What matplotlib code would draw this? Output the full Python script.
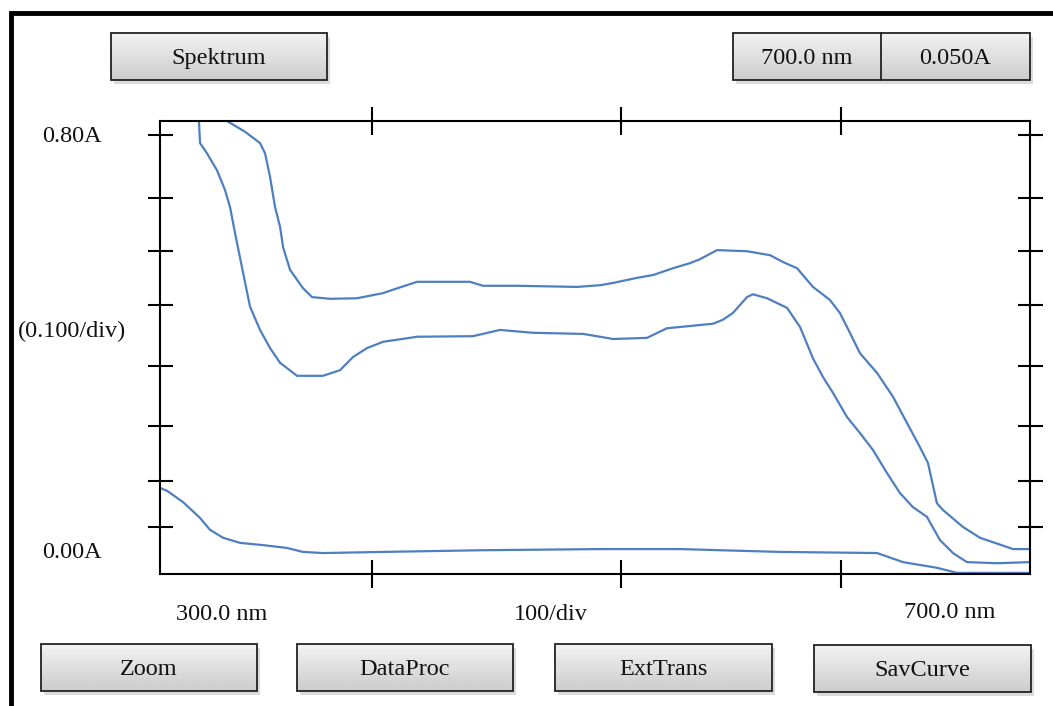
import numpy as np
import matplotlib.pyplot as plt
from matplotlib.patches import Rectangle

plt.rcParams['font.family'] = ['Liberation Serif', 'DejaVu Serif']

# Espectros (longitud de onda en nm, absorbancia en A)
wl_upper = [330.8, 339.1, 346.0, 348.3, 350.6, 352.9, 355.2, 356.6, 359.8, 365.7,
            369.9, 378.2, 390.6, 402.5, 407.1, 418.2, 442.5, 448.5, 464.1, 491.7,
            502.3, 508.3, 519.3, 526.7, 535.9, 543.7, 548.3, 556.1, 569.9, 580.5,
            586.4, 592.9, 600.2, 608.0, 612.6, 617.2, 621.8, 629.7, 637.0, 643.4,
            649.4, 653.1, 657.2, 660.0, 669.2, 677.0, 692.2, 700.0]
abs_upper = [0.800, 0.781, 0.761, 0.743, 0.701, 0.648, 0.613, 0.577, 0.537, 0.505,
             0.489, 0.486, 0.487, 0.496, 0.502, 0.516, 0.516, 0.509, 0.509, 0.507,
             0.510, 0.514, 0.523, 0.528, 0.540, 0.549, 0.556, 0.572, 0.570, 0.563,
             0.551, 0.540, 0.507, 0.484, 0.461, 0.426, 0.390, 0.355, 0.313, 0.267,
             0.224, 0.196, 0.125, 0.113, 0.083, 0.064, 0.044, 0.044]

wl_middle = [317.9, 318.4, 321.6, 326.2, 329.9, 332.2, 334.5, 338.2, 341.4, 346.0,
             350.6, 355.2, 363.0, 374.9, 382.8, 388.7, 395.2, 402.5, 418.2, 443.9,
             456.3, 471.5, 494.5, 502.3, 508.3, 523.9, 533.1, 554.3, 558.8, 563.4,
             569.9, 572.6, 579.1, 588.3, 594.3, 600.2, 604.8, 609.4, 615.9, 621.8,
             627.8, 634.3, 640.2, 646.2, 652.6, 658.6, 664.6, 671.0, 684.8, 700.0]
abs_middle = [0.800, 0.761, 0.743, 0.713, 0.678, 0.648, 0.602, 0.532, 0.472, 0.431,
              0.399, 0.373, 0.350, 0.350, 0.360, 0.383, 0.399, 0.410, 0.419, 0.420,
              0.431, 0.426, 0.424, 0.419, 0.415, 0.417, 0.434, 0.442, 0.449, 0.461,
              0.489, 0.494, 0.487, 0.470, 0.436, 0.381, 0.348, 0.320, 0.277, 0.249,
              0.219, 0.178, 0.143, 0.118, 0.101, 0.060, 0.037, 0.021, 0.019, 0.021]

wl_lower = [300.0, 303.2, 310.6, 318.4, 323.0, 329.0, 336.8, 347.4, 358.4, 365.7,
            374.9, 402.5, 448.5, 502.3, 539.1, 585.1, 629.7, 641.6, 646.2, 657.2,
            666.4, 700.0]
abs_lower = [0.152, 0.147, 0.127, 0.099, 0.078, 0.064, 0.055, 0.051, 0.046, 0.039,
             0.037, 0.039, 0.042, 0.044, 0.044, 0.039, 0.037, 0.021, 0.018, 0.011,
             0.002, 0.002]

# Marcas de los ejes
y_ticks = [0.083, 0.164, 0.261, 0.367, 0.475, 0.570, 0.664, 0.775]
x_ticks = [397.5, 512.0, 613.0]

# Botones de la pantalla: (texto, x0, y0, x1, y1) en píxeles
buttons = [('Spektrum', 111, 33, 327, 80),
           ('Zoom', 41, 644, 257, 691),
           ('DataProc', 297, 644, 513, 691),
           ('ExtTrans', 555, 644, 772, 691),
           ('SavCurve', 814, 645, 1031, 692)]
split_labels = ['700.0 nm', '0.050A']

W, H = 1053, 706
FS = 17.5
TC = '#111111'
fig = plt.figure(figsize=(W / 100, H / 100), dpi=100)

# Capa de fondo en coordenadas de píxel
bg = fig.add_axes([0, 0, 1, 1])
bg.set_xlim(0, W)
bg.set_ylim(H, 0)
bg.axis('off')

# Marco exterior
bg.plot([10.5, 10.5, W + 5], [H + 5, 12.5, 12.5], color='black', lw=3.5,
        solid_joinstyle='miter', clip_on=False)

grad = np.linspace(0.95, 0.80, 50).reshape(-1, 1)


def boton(x0, y0, x1, y1):
    bg.add_patch(Rectangle((x0 + 3, y0 + 4), x1 - x0, y1 - y0, color='#b8b8b8',
                           alpha=0.5, lw=0, zorder=1))
    bg.imshow(grad, cmap='gray', vmin=0, vmax=1, aspect='auto',
              extent=(x0, x1, y1, y0), zorder=2)
    bg.add_patch(Rectangle((x0, y0), x1 - x0, y1 - y0, fill=False,
                           edgecolor='#222222', lw=1.3, zorder=3))


for txt, x0, y0, x1, y1 in buttons:
    boton(x0, y0, x1, y1)
    bg.text((x0 + x1) / 2, (y0 + y1) / 2 + 2, txt, ha='center', va='center',
            fontsize=FS, color=TC, zorder=4)

# Botón doble de la derecha
boton(733, 33, 1030, 80)
bg.plot([881, 881], [33, 80], color='#222222', lw=1.3, zorder=3)
bg.text(807, 58.5, split_labels[0], ha='center', va='center', fontsize=FS,
        color=TC, zorder=4)
bg.text(955, 58.5, split_labels[1], ha='center', va='center', fontsize=FS,
        color=TC, zorder=4)
bg.set_xlim(0, W)
bg.set_ylim(H, 0)

# Etiquetas del gráfico
bg.text(72, 137, '0.80A', ha='center', va='center', fontsize=FS, color=TC)
bg.text(72, 331, '(0.100/div)', ha='center', va='center', fontsize=FS, color=TC)
bg.text(72, 552, '0.00A', ha='center', va='center', fontsize=FS, color=TC)
bg.text(222, 614, '300.0 nm', ha='center', va='center', fontsize=FS, color=TC)
bg.text(551, 615, '100/div', ha='center', va='center', fontsize=FS, color=TC)
bg.text(950, 613, '700.0 nm', ha='center', va='center', fontsize=FS, color=TC)

# Gráfico principal
ax = fig.add_axes([160 / W, 1 - 574 / H, 870 / W, 453 / H])
ax.set_xlim(300, 700)
ax.set_ylim(0, 0.8)
blue = '#4f7fbf'
ax.plot(wl_upper, abs_upper, color=blue, lw=1.6)
ax.plot(wl_middle, abs_middle, color=blue, lw=1.6)
ax.plot(wl_lower, abs_lower, color=blue, lw=1.6)

for s in ax.spines.values():
    s.set_linewidth(1.5)
ax.set_xticks(x_ticks)
ax.set_yticks(y_ticks)
ax.tick_params(axis='x', direction='inout', length=20, width=1.5,
               top=True, bottom=True, labelbottom=False)
ax.tick_params(axis='y', direction='inout', length=18, width=1.5,
               left=True, right=True, labelleft=False)

fig.savefig('out.png', dpi=100)
